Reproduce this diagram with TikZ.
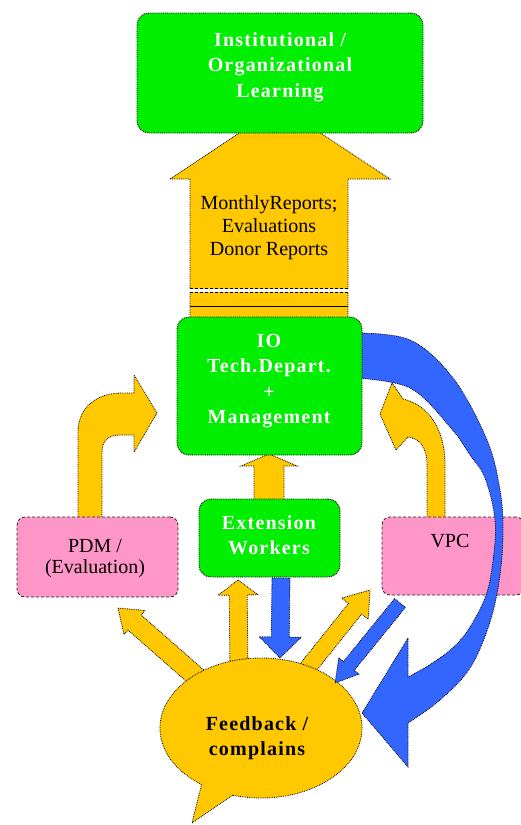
\documentclass[tikz,border=0pt]{standalone}
\usepackage{fontspec}
\setmainfont{Liberation Serif}
\usetikzlibrary{shapes.geometric,calc}

\definecolor{boxgreen}{RGB}{0,238,0}
\definecolor{arrowgold}{RGB}{255,200,0}
\definecolor{flowblue}{RGB}{51,102,255}
\definecolor{notepink}{RGB}{255,150,200}

\tikzset{
  greenbox/.style={draw=black, line width=0.9pt, densely dotted, fill=boxgreen,
    rounded corners=12pt, inner sep=0pt},
  pinkbox/.style={draw=black!85, line width=0.8pt, densely dashed, fill=notepink,
    rounded corners=8pt, inner sep=0pt},
  goldshape/.style={fill=arrowgold, draw=black, line width=0.8pt, densely dotted},
  blueshape/.style={fill=flowblue, draw=black, line width=0.8pt, densely dotted},
  whitetext/.style={text=white, align=center, inner sep=0pt,
    font=\bfseries\fontsize{20}{25.5}\selectfont\addfontfeature{LetterSpace=6}},
  darktext/.style={text=black, align=center, inner sep=0pt,
    font=\fontsize{20}{23}\selectfont},
  boldtext/.style={text=black, align=center, inner sep=0pt,
    font=\bfseries\fontsize{20}{25}\selectfont\addfontfeature{LetterSpace=6}},
}

% straight block arrow: style, tail, tip, shaft half-width, head half-width, head length
\newcommand\blockarrow[6]{%
  \coordinate (ahead) at ($(#3)!#6!(#2)$);
  \path[#1] ($(#2)!#4!90:(#3)$) -- ($(ahead)!#4!90:(#3)$) -- ($(ahead)!#5!90:(#3)$)
    -- (#3) -- ($(ahead)!#5!-90:(#3)$) -- ($(ahead)!#4!-90:(#3)$)
    -- ($(#2)!#4!-90:(#3)$) -- cycle;}

\begin{document}
\begin{tikzpicture}[x=1pt, y=-1pt]
\fill[white] (0,0) rectangle (521,825);
\useasboundingbox (0,0) rectangle (521,825);

% wide upward arrow carrying the reports
\path[goldshape] (190,322) -- (190,179) -- (170,179) -- (280,106) -- (390,179)
  -- (348,179) -- (348,322) -- cycle;
\fill[white] (189,288.5) rectangle (349,291.5);
\draw[densely dashed, line width=0.7pt] (190,288) -- (348,288);
\draw[densely dashed, line width=0.7pt] (190,292) -- (348,292);
\draw[line width=1pt] (190,306) -- (348,306);
\node[darktext] (rptlbl) at (269,228) {MonthlyReports;\\Evaluations\\Donor Reports};

% top goal box
\node[greenbox, minimum width=286pt, minimum height=120pt] (org) at (280,73) {};
\node[whitetext] (orglbl) at (280,67) {Institutional /\\Organizational\\Learning};

% curved arrows from the side boxes to the department box
\path[goldshape] (78,519) -- (78,432) .. controls (78,408) and (96,393) .. (122,393)
  -- (134,393) -- (134,375) -- (157,413) -- (134,452) -- (134,435) -- (120,435)
  .. controls (108,435) and (102,441) .. (102,452) -- (102,519) -- cycle;
\path[goldshape] (427,519) -- (427,465) .. controls (427,447) and (419,438) .. (408,437)
  -- (396,450) -- (380,414) -- (392,383) -- (403,399)
  .. controls (428,405) and (445,428) .. (445,465) -- (445,519) -- cycle;

% side boxes
\node[pinkbox, minimum width=161pt, minimum height=80pt] (pdm) at (97.5,557) {};
\node[darktext, font=\fontsize{20}{21}\selectfont] (pdmlbl) at (95,559) {PDM /\\(Evaluation)};
\node[pinkbox, minimum width=142pt, minimum height=78pt] (vpc) at (453,556) {};
\node[darktext] (vpclbl) at (450,541) {VPC};

% arrows between the workers, the department and the feedback
\coordinate (extTop) at (269,502);
\coordinate (ioBottom) at (269,454);
\blockarrow{goldshape}{extTop}{ioBottom}{15pt}{28pt}{12pt}

\coordinate (fbLeft) at (200,680);
\coordinate (pdmIn) at (118,608);
\blockarrow{goldshape}{fbLeft}{pdmIn}{10pt}{16pt}{22pt}
\coordinate (fbTop) at (239,670);
\coordinate (extIn) at (238,580);
\blockarrow{goldshape}{fbTop}{extIn}{9pt}{20pt}{15pt}
\coordinate (fbRight) at (302,675);
\coordinate (vpcIn) at (370,590);
\blockarrow{goldshape}{fbRight}{vpcIn}{8.5pt}{17pt}{24pt}

% extension workers
\node[greenbox, minimum width=141pt, minimum height=78pt] (ext) at (269.5,538) {};
\node[whitetext] (extlbl) at (269,535) {Extension\\Workers};

% large return arc from the department down to the feedback
\path[blueshape] plot[smooth, tension=0.6] coordinates {(355,333) (410,340) (453,378)
  (487,440) (500,490) (503,530) (500,575) (490,622) (470,668) (440,700) (408,723)}
  -- (408,767) -- (362,713) -- (408,638) -- (408,677)
  -- plot[smooth, tension=0.6] coordinates {(408,677) (437,660) (463,637) (485,598)
  (493,560) (495,520) (485,478) (470,455) (450,427) (410,388) (355,378)} -- cycle;

% department box
\node[greenbox, minimum width=185pt, minimum height=138pt] (io) at (269.5,386) {};
\node[whitetext] (iolbl) at (269,381) {IO\\Tech.Depart.\\+\\Management};

% feedback speech bubble
\node[ellipse, fill=arrowgold, draw=black, line width=0.8pt, densely dotted,
  minimum width=202pt, minimum height=140pt, inner sep=0pt] (fb) at (261,728) {};
\fill[arrowgold] (204,775) -- (192,823) -- (240,790) -- cycle;
\draw[black, line width=0.8pt, densely dotted] (201.6,784.6) -- (192,823) -- (232.8,795);
\node[boldtext] (fblbl) at (257,738) {Feedback /\\complains};

% blue arrows pointing into the feedback
\coordinate (extBottom) at (281,578);
\coordinate (fbIn) at (280,658);
\blockarrow{blueshape}{extBottom}{fbIn}{9pt}{21pt}{21pt}
\coordinate (vpcOut) at (400,603);
\coordinate (fbIn2) at (335,683);
\blockarrow{blueshape}{vpcOut}{fbIn2}{7pt}{13pt}{22pt}
\end{tikzpicture}
\end{document}
